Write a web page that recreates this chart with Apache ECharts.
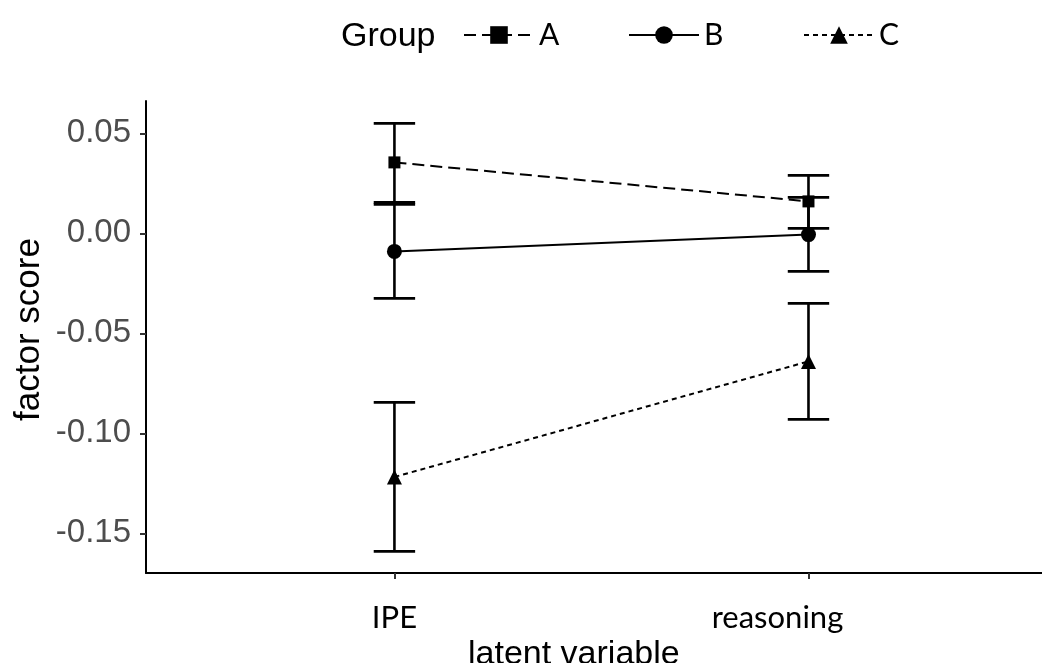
<!DOCTYPE html>
<html>
<head>
<meta charset="utf-8">
<script src="https://cdn.jsdelivr.net/npm/echarts@6/dist/echarts.min.js"></script>
<style>html,body{margin:0;padding:0;background:#fff}#main{width:1042px;height:663px}</style>
</head>
<body>
<div id="main"></div>
<script>
const categories = ['IPE', 'reasoning'];
const groups = ['A', 'B', 'C'];
const meanA = [0.0355, 0.016];
const lowA = [0.0155, 0.0025];
const highA = [0.055, 0.029];
const meanB = [-0.009, -0.0006];
const lowB = [-0.0325, -0.019];
const highB = [0.0145, 0.018];
const meanC = [-0.1218, -0.064];
const lowC = [-0.159, -0.093];
const highC = [-0.0845, -0.035];
const yTicks = [-0.15, -0.10, -0.05, 0.00, 0.05];

const means = [meanA, meanB, meanC];
const lows = [lowA, lowB, lowC];
const highs = [highA, highB, highC];
const symbols = ['rect', 'circle', 'triangle'];
const symbolSizes = [12, 15, 15];
const dashes = [[12, 6], 'solid', [5, 4]];
const catPos = categories.map((c, i) => i + 1);

const chart = echarts.init(document.getElementById('main'));

const errData = [];
groups.forEach((g, gi) => {
  categories.forEach((c, ci) => {
    errData.push([catPos[ci], lows[gi][ci], highs[gi][ci]]);
  });
});

const series = [{
  type: 'custom',
  name: 'err',
  z: 1,
  silent: true,
  data: errData,
  encode: { x: 0, y: [1, 2] },
  renderItem: function (params, api) {
    const x = api.value(0);
    const lo = api.coord([x, api.value(1)]);
    const hi = api.coord([x, api.value(2)]);
    const l = api.coord([x - 0.05, api.value(1)])[0];
    const r = api.coord([x + 0.05, api.value(1)])[0];
    const st = { stroke: '#000', lineWidth: 2.6 };
    return {
      type: 'group',
      children: [
        { type: 'line', shape: { x1: lo[0], y1: lo[1], x2: hi[0], y2: hi[1] }, style: st },
        { type: 'line', shape: { x1: l, y1: lo[1], x2: r, y2: lo[1] }, style: st },
        { type: 'line', shape: { x1: l, y1: hi[1], x2: r, y2: hi[1] }, style: st }
      ]
    };
  }
}];
groups.forEach((g, gi) => {
  series.push({
    type: 'line',
    name: g,
    z: 3,
    data: catPos.map((p, ci) => [p, means[gi][ci]]),
    symbol: symbols[gi],
    symbolSize: symbolSizes[gi],
    showAllSymbol: true,
    itemStyle: { color: '#000' },
    lineStyle: { color: '#000', width: 2, type: dashes[gi] },
    emphasis: { disabled: true },
    animation: false
  });
});

const legendLefts = [458, 623, 798];
const legends = groups.map((g, gi) => ({
  data: [g],
  left: legendLefts[gi],
  top: 15,
  itemWidth: 70,
  itemHeight: 22,
  itemGap: 12,
  selectedMode: false,
  textStyle: { fontFamily: 'Lato', fontSize: 30, color: '#000' }
}));

chart.setOption({
  animation: false,
  backgroundColor: '#fff',
  title: {
    text: 'Group', left: 336, top: 15,
    textStyle: { fontFamily: 'Liberation Sans', fontSize: 34, fontWeight: 'normal', color: '#000' }
  },
  legend: legends,
  grid: { left: 146, top: 101, width: 896, height: 472, containLabel: false },
  xAxis: {
    type: 'value', min: 0.4, max: 2.564,
    splitLine: { show: false },
    axisLine: { onZero: false, lineStyle: { color: '#000', width: 2 } },
    axisTick: { customValues: catPos, length: 6, lineStyle: { color: '#333', width: 2 } },
    axisLabel: {
      customValues: catPos, margin: 29,
      formatter: function (v) {
        const i = Math.round(v) - 1;
        return i === 1 ? '{s|' + categories[i] + '}' : categories[i];
      },
      fontFamily: 'Lato', fontSize: 31, color: '#000',
      rich: { s: { fontFamily: 'Lato', fontSize: 31, color: '#000', padding: [0, 62, 0, 0] } }
    }
  },
  yAxis: {
    type: 'value', min: -0.1698, max: 0.0662,
    splitLine: { show: false },
    axisLine: { lineStyle: { color: '#000', width: 2 } },
    axisTick: { customValues: yTicks, length: 6, lineStyle: { color: '#333', width: 2 } },
    axisLabel: {
      customValues: yTicks, margin: 15,
      formatter: function (v) { return v.toFixed(2); },
      fontFamily: 'Liberation Sans', fontSize: 33, color: '#4d4d4d'
    }
  },
  graphic: [{
    type: 'text', left: 468, top: 638,
    style: { text: 'latent variable', font: '34px "Liberation Sans"', fill: '#000' }
  }, {
    type: 'text', x: 12, y: 421, rotation: Math.PI / 2,
    style: { text: 'factor score', font: '35px "Liberation Sans"', fill: '#000' }
  }],
  series: series
});
</script>
</body>
</html>
